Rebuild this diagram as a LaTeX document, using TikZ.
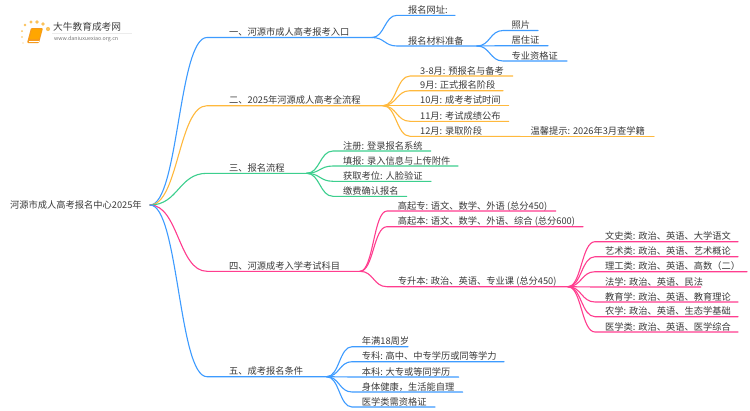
\documentclass[tikz,border=0pt]{standalone}
\usepackage{fontspec}
\setmainfont{Noto Sans CJK SC}
\usetikzlibrary{calc}
\definecolor{cblue}{HTML}{3D9BFF}
\definecolor{corange}{HTML}{FFB93D}
\definecolor{cgreen}{HTML}{3CCF8E}
\definecolor{cpink}{HTML}{FF3D8F}
\definecolor{ctext}{HTML}{3A3A3A}
\definecolor{cdot}{HTML}{FBC25A}
\definecolor{cbook}{HTML}{F59A1E}
\tikzset{
  x=1pt,y=-1pt,
  lbl/.style={anchor=west,inner sep=0pt,text=ctext,text height=8.1pt,text depth=1.1pt,font=\fontsize{9.25}{10}\selectfont},
  conn/.style={line width=1.1pt,line cap=round,line join=round},
}
% name, parent, curve end x, y, line end x, colour, text x, text
\newcommand{\mmbranch}[8]{%
  \coordinate (#1-s) at (#3,#4);
  \coordinate (#1) at (#5,#4);
  \node[lbl] (#1-t) at (#7,#4-5.5) {#8};
  \draw[conn,#6] (#2) .. controls ($(#2)!0.5!(#1-s |- #2)$) and ($(#2 |- #1-s)!0.5!(#1-s)$) .. (#1-s) -- (#1);
}
\begin{document}
\begin{tikzpicture}
\useasboundingbox (0,0) rectangle (750,410);
\fill[white] (0,0) rectangle (750,410);
% logo
\foreach \a/\b/\r in {23/43/0.7,22/37/0.8,22/31/1.0,25/25/1.3,31/22/1.7,37/22/1.9,43/24/1.9,48/29/2.1}
  \fill[cdot] (\a,\b) circle (\r);
\fill[cbook,rounded corners=1pt] (31,28) -- (43,28) -- (39,43) -- (27,43) -- cycle;
\fill[orange!70!yellow,rounded corners=0.8pt] (32,29) -- (42,29) -- (39,39) -- (29.5,39) -- cycle;
\draw[white,line width=0.6pt] (29,40.8) -- (38.5,40.8);
\draw[gray!15,line width=0.6pt] (52,33.5) -- (132,33.5);
\node[anchor=west,inner sep=0pt,text=black!75,font=\fontsize{9.7}{10}\selectfont] (logot) at (53,27) {大牛教育成考网};
\node[anchor=west,inner sep=0pt,text=black!55,font=\fontsize{5.3}{6}\selectfont] (logou) at (54,39) {www.daniuxuexiao.org.cn};
% root
\node[lbl] (root) at (10,205) {河源市成人高考报名中心2025年};
\coordinate (r) at (150,205);
% 1
\mmbranch{a}{r}{207}{37.5}{372}{cblue}{229}{一、河源市成人高考报考入口}
\mmbranch{a1}{a}{397}{15.3}{455}{cblue}{408}{报名网址:}
\mmbranch{a2}{a}{397}{46}{477}{cblue}{408}{报名材料准备}
\mmbranch{a21}{a2}{503}{30.5}{538}{cblue}{511.5}{照片}
\mmbranch{a22}{a2}{503}{45.7}{548}{cblue}{511.5}{居住证}
\mmbranch{a23}{a2}{503}{61}{567}{cblue}{511.5}{专业资格证}
% 2
\mmbranch{b}{r}{207}{105.7}{383}{corange}{229}{二、2025年河源成人高考全流程}
\mmbranch{b1}{b}{410}{76}{512.7}{corange}{420}{3-8月: 预报名与备考}
\mmbranch{b2}{b}{410}{90.7}{503}{corange}{420}{9月: 正式报名阶段}
\mmbranch{b3}{b}{410}{105.7}{508.7}{corange}{420}{10月: 成考考试时间}
\mmbranch{b4}{b}{410}{121.3}{508.7}{corange}{420}{11月: 考试成绩公布}
\mmbranch{b5}{b}{410}{136.3}{520}{corange}{420}{12月: 录取阶段}
\mmbranch{b51}{b5}{522}{136.3}{654}{corange}{530.5}{温馨提示: 2026年3月查学籍}
% 3
\mmbranch{c}{r}{207}{173.3}{306.7}{cgreen}{229}{三、报名流程}
\mmbranch{c1}{c}{333}{151}{430.7}{cgreen}{343}{注册: 登录报名系统}
\mmbranch{c2}{c}{333}{166}{458}{cgreen}{343}{填报: 录入信息与上传附件}
\mmbranch{c3}{c}{333}{181.3}{431}{cgreen}{343}{获取考位: 人脸验证}
\mmbranch{c4}{c}{333}{196.3}{406.7}{cgreen}{343}{缴费确认报名}
% 4
\mmbranch{d}{r}{207}{271.3}{360}{cpink}{229}{四、河源成考入学考试科目}
\mmbranch{d1}{d}{387}{211}{555.7}{cpink}{397.7}{高起专: 语文、数学、外语 (总分450)}
\mmbranch{d2}{d}{387}{226.7}{583}{cpink}{397.7}{高起本: 语文、数学、外语、综合 (总分600)}
\mmbranch{d3}{d}{387}{286.7}{568}{cpink}{397.7}{专升本: 政治、英语、专业课 (总分450)}
\mmbranch{e1}{d3}{595}{241.7}{738}{cpink}{605}{文史类: 政治、英语、大学语文}
\mmbranch{e2}{d3}{595}{256.7}{738}{cpink}{605}{艺术类: 政治、英语、艺术概论}
\mmbranch{e3}{d3}{595}{271.7}{747}{cpink}{605}{理工类: 政治、英语、高数（二）}
\mmbranch{e4}{d3}{595}{287}{700.7}{cpink}{605}{法学: 政治、英语、民法}
\mmbranch{e5}{d3}{595}{302}{738}{cpink}{605}{教育学: 政治、英语、教育理论}
\mmbranch{e6}{d3}{595}{316.7}{738}{cpink}{605}{农学: 政治、英语、生态学基础}
\mmbranch{e7}{d3}{595}{332}{738}{cpink}{605}{医学类: 政治、英语、医学综合}
% 5
\mmbranch{f}{r}{207}{376.7}{326.7}{cblue}{229}{五、成考报名条件}
\mmbranch{f1}{f}{352}{346.7}{408}{cblue}{361.7}{年满18周岁}
\mmbranch{f2}{f}{352}{361.7}{504}{cblue}{361.7}{专科: 高中、中专学历或同等学力}
\mmbranch{f3}{f}{352}{377}{458.7}{cblue}{361.7}{本科: 大专或等同学历}
\mmbranch{f4}{f}{352}{392}{462.7}{cblue}{361.7}{身体健康，生活能自理}
\mmbranch{f5}{f}{352}{407}{435}{cblue}{361.7}{医学类需资格证}
\end{tikzpicture}
\end{document}
